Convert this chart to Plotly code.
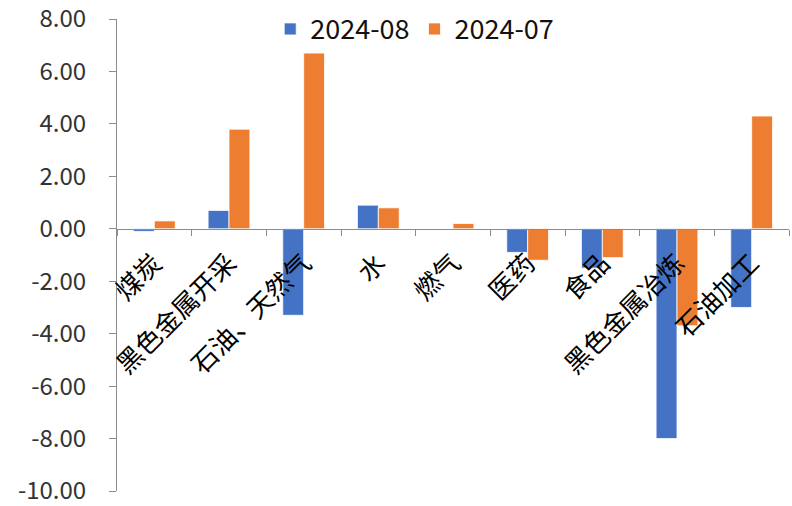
import plotly.graph_objects as go

categories = ["煤炭", "黑色金属开采", "石油、天然气", "水", "燃气", "医药", "食品", "黑色金属冶炼", "石油加工"]
series_names = ["2024-08", "2024-07"]
values_08 = [-0.1, 0.7, -3.3, 0.9, 0.0, -0.9, -1.5, -8.0, -3.0]
values_07 = [0.3, 3.8, 6.7, 0.8, 0.2, -1.2, -1.1, -3.7, 4.3]
y_tickvals = [8, 6, 4, 2, 0, -2, -4, -6, -8, -10]
y_ticktext = ["8.00", "6.00", "4.00", "2.00", "0.00", "-2.00", "-4.00", "-6.00", "-8.00", "-10.00"]

colors = ["#4472C4", "#ED7D31"]
FONT = "Noto Sans CJK SC"
ymin, ymax = -10, 8

fig = go.Figure()
for name, vals, col in zip(series_names, [values_08, values_07], colors):
    fig.add_trace(go.Bar(
        x=categories, y=vals, name=name,
        marker=dict(color=col, line=dict(color="white", width=0.8)),
    ))

fig.update_layout(
    width=792, height=506,
    margin=dict(l=117, r=3, t=19, b=15),
    paper_bgcolor="white", plot_bgcolor="white",
    barmode="group", bargap=0.44, bargroupgap=0,
    font=dict(family=FONT, size=22, color="#000000"),
    showlegend=True,
    legend=dict(orientation="h", x=0.228, y=0.978, xanchor="left", yanchor="middle",
                font=dict(family=FONT, size=27, color="#111111"),
                bgcolor="rgba(0,0,0,0)", itemwidth=30, traceorder="normal"),
    xaxis=dict(
        anchor="free", position=(0 - ymin) / (ymax - ymin),
        showline=True, linecolor="#8c8c8c", linewidth=1,
        ticks="outside", tickson="boundaries", ticklen=6, tickcolor="#8c8c8c",
        tickangle=-45, showgrid=False, zeroline=False, automargin=False,
        ticklabelstandoff=8,
        tickfont=dict(family=FONT, size=26, color="#000000"),
    ),
    yaxis=dict(
        range=[ymin, ymax], domain=[0, 1],
        tickvals=y_tickvals, ticktext=y_ticktext,
        showline=True, linecolor="#8c8c8c", linewidth=1,
        ticks="outside", ticklen=7, tickcolor="#8c8c8c",
        showgrid=False, zeroline=False, automargin=False,
        ticklabeloverflow="allow", ticklabelstandoff=18,
        tickfont=dict(family=FONT, size=24, color="#333333"),
    ),
)

fig.write_html("out.html", config={"displayModeBar": False},
               post_script="document.body.style.margin='0';document.body.style.overflow='hidden';")
